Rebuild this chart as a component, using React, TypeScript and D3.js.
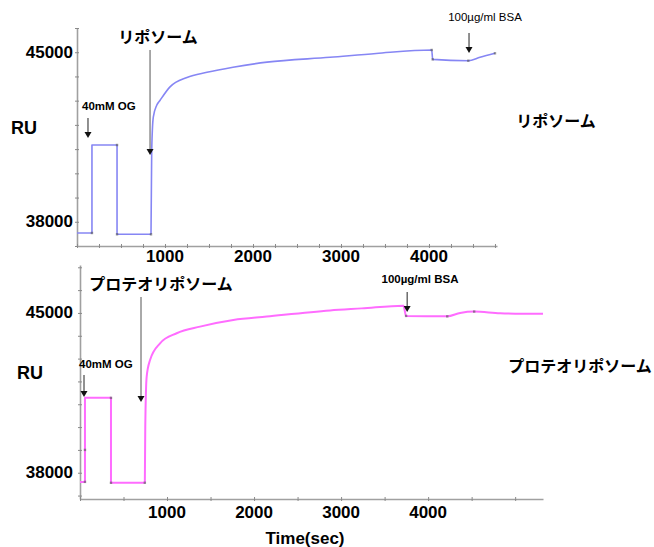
import { useEffect, useRef } from 'react';
import * as d3 from 'd3';

const W = 654;
const H = 547;
const LATIN = "'Liberation Sans', Arial, sans-serif";
const JP = "'Noto Sans CJK JP', 'Noto Sans CJK SC', sans-serif";

// --- top panel: liposome (time in sec, response in RU)
const lipoTime = [0, 170, 170, 455, 455, 841, 849, 867, 906, 943, 1057, 1250, 1477, 1773, 2159, 2875, 3400, 4031, 4042, 4447, 4580, 4750];
const lipoRU = [37537, 37537, 41170, 41170, 37483, 37483, 40940, 42320, 42810, 43010, 43570, 43960, 44170, 44380, 44590, 44790, 44950, 45092, 44706, 44650, 44790, 44956];
const lipoMarkTime = [170, 455, 455, 841, 4031, 4042, 4447, 4750];
const lipoMarkRU = [37537, 41170, 37483, 37483, 45092, 44706, 44650, 44956];

// --- bottom panel: proteoliposome
const proTime = [0, 57, 57, 356, 356, 745, 750, 766, 805, 920, 1111, 1379, 1762, 2146, 2874, 3237, 3716, 3747, 4220, 4368, 4529, 4828, 5320];
const proRU = [37600, 37600, 41280, 41280, 37560, 37560, 40010, 42210, 42940, 43670, 44110, 44400, 44690, 44840, 45110, 45200, 45320, 44870, 44850, 45000, 45060, 44990, 44960];
const proMarkTime = [57, 57, 356, 356, 745, 3747, 4220, 4529];
const proMarkRU = [37600, 39000, 41280, 37560, 37560, 44870, 44850, 45060];

// index where the smooth association curve begins (steps before it)
const lipoRiseStart = 5;
const proRiseStart = 5;

const xTickLabels = [1000, 2000, 3000, 4000];
const yTickLabels = [45000, 38000];

export default function App() {
  const svgRef = useRef<SVGSVGElement>(null);

  useEffect(() => {
    if (!svgRef.current) return;
    const svg = d3.select(svgRef.current);
    svg.selectAll('*').remove();

    const panels = [
      {
        time: lipoTime, vals: lipoRU, markT: lipoMarkTime, markR: lipoMarkRU, rise: lipoRiseStart,
        color: '#8686f4', width: 1.6,
        xDomain: [0, 4773], xRange: [77, 497],
        yDomain: [37000, 46000], yRange: [246, 28],
        minorStep: 250, yMinor: d3.range(37000, 46001, 1000),
        xLabelY: 256, yLabelX: 73,
        title: 'リポソーム', titleX: 158, titleY: 36,
        side: 'リポソーム', sideX: 556, sideY: 120,
        ruX: 24, ruY: 128,
        og: { t: 125, from: 42284, to: 41459, tx: 82, ty: 110 },
        big: { t: 830, from: 45092, to: 40757 },
        bsa: { t: 4455, from: 45794, to: 44968, tx: 485, ty: 21, bold: false },
      },
      {
        time: proTime, vals: proRU, markT: proMarkTime, markR: proMarkRU, rise: proRiseStart,
        color: '#ff6cff', width: 2,
        xDomain: [0, 5320], xRange: [80, 543],
        yDomain: [36850, 47100], yRange: [499, 265],
        minorStep: 500, yMinor: d3.range(37000, 47001, 1000),
        xLabelY: 512, yLabelX: 73,
        title: 'プロテオリポソーム', titleX: 161, titleY: 283,
        side: 'プロテオリポソーム', sideX: 580, sideY: 365,
        ruX: 30, ruY: 373,
        og: { t: 46, from: 42282, to: 41318, tx: 79, ty: 368 },
        big: { t: 701, from: 45698, to: 41098 },
        bsa: { t: 3759, from: 45917, to: 45041, tx: 420, ty: 283, bold: true },
      },
    ];

    const arrow = (g: any, x: number, y1: number, y2: number, color: string) => {
      g.append('line')
        .attr('x1', x).attr('x2', x)
        .attr('y1', y1).attr('y2', y2 - 5)
        .style('stroke', color).style('stroke-width', 1);
      g.append('path')
        .attr('d', `M${x - 3.5},${y2 - 6}L${x + 3.5},${y2 - 6}L${x},${y2}Z`)
        .style('fill', '#111');
    };

    panels.forEach((p: any) => {
      const series = p.time.map((t: number, i: number) => ({ t, v: p.vals[i] }));
      const x = d3.scaleLinear().domain(p.xDomain).range(p.xRange);
      const y = d3.scaleLinear().domain(p.yDomain).range(p.yRange);
      const g = svg.append('g');

      // Axes
      const ya = g.append('g')
        .attr('transform', `translate(${p.xRange[0]},0)`)
        .call(d3.axisLeft(y).tickValues(p.yMinor).tickSizeOuter(0).tickFormat(() => ''));
      const xa = g.append('g')
        .attr('transform', `translate(0,${p.yRange[0]})`)
        .call(d3.axisBottom(x).tickValues(d3.range(0, p.xDomain[1], p.minorStep)).tickSizeOuter(0).tickFormat(() => ''));
      [ya, xa].forEach(a => {
        a.select('.domain').style('stroke', '#a0a0a0').style('stroke-width', 1.6);
        a.selectAll('.tick line').style('stroke', '#8a8a8a').style('stroke-width', 1);
      });
      ya.selectAll('.tick line').attr('x1', 2).attr('x2', -2);
      xa.selectAll('.tick line').attr('y1', -2).attr('y2', 2);

      // tick labels
      g.selectAll('text.xl')
        .data(xTickLabels)
        .enter()
        .append('text')
        .attr('x', d => x(d))
        .attr('y', p.xLabelY)
        .attr('text-anchor', 'middle')
        .attr('dominant-baseline', 'central')
        .style('font-family', LATIN)
        .style('font-weight', 'bold')
        .style('font-size', '17px')
        .text(d => d);
      g.selectAll('text.yl')
        .data(yTickLabels)
        .enter()
        .append('text')
        .attr('x', p.yLabelX)
        .attr('y', d => y(d))
        .attr('text-anchor', 'end')
        .attr('dominant-baseline', 'central')
        .style('font-family', LATIN)
        .style('font-weight', 'bold')
        .style('font-size', '17px')
        .text(d => d);

      g.append('text')
        .attr('x', p.ruX).attr('y', p.ruY)
        .attr('text-anchor', 'middle')
        .attr('dominant-baseline', 'central')
        .style('font-family', LATIN)
        .style('font-weight', 'bold')
        .style('font-size', '18px')
        .text('RU');

      // sensorgram: square injection steps, then smooth association/dissociation
      const stepLine = d3.line<any>().x(d => x(d.t)).y(d => y(d.v));
      const smoothLine = d3.line<any>().x(d => x(d.t)).y(d => y(d.v)).curve(d3.curveMonotoneX);
      [[series.slice(0, p.rise + 1), stepLine], [series.slice(p.rise), smoothLine]].forEach(([pts, gen]: any) => {
        g.append('path')
          .datum(pts)
          .attr('d', gen)
          .style('fill', 'none')
          .style('stroke', p.color)
          .style('stroke-width', p.width)
          .style('stroke-linejoin', 'round');
      });

      // injection markers
      g.selectAll('rect.mk')
        .data(p.markT.map((t: number, i: number) => ({ t, v: p.markR[i] })))
        .enter()
        .append('rect')
        .attr('x', (d: any) => x(d.t) - 1.2)
        .attr('y', (d: any) => y(d.v) - 1.2)
        .attr('width', 2.4).attr('height', 2.4)
        .style('fill', '#555')
        .style('opacity', 0.6);

      // annotations
      arrow(g, x(p.og.t), y(p.og.from), y(p.og.to), '#222');
      g.append('text')
        .attr('x', p.og.tx).attr('y', p.og.ty)
        .style('font-family', LATIN)
        .style('font-weight', 'bold')
        .style('font-size', '11.5px')
        .text('40mM OG');

      arrow(g, x(p.big.t), y(p.big.from), y(p.big.to), '#555');
      arrow(g, x(p.bsa.t), y(p.bsa.from), y(p.bsa.to), '#222');
      g.append('text')
        .attr('x', p.bsa.tx).attr('y', p.bsa.ty)
        .attr('text-anchor', 'middle')
        .style('font-family', LATIN)
        .style('font-weight', p.bsa.bold ? 'bold' : 'normal')
        .style('font-size', '11.5px')
        .text('100µg/ml BSA');

      [[p.title, p.titleX, p.titleY], [p.side, p.sideX, p.sideY]].forEach(([t, tx, ty]) => {
        g.append('text')
          .attr('x', tx).attr('y', ty)
          .attr('text-anchor', 'middle')
          .attr('dominant-baseline', 'central')
          .style('font-family', JP)
          .style('font-weight', 'bold')
          .style('font-size', '16px')
          .text(t);
      });
    });

    svg.append('text')
      .attr('x', 305).attr('y', 538)
      .attr('text-anchor', 'middle')
      .attr('dominant-baseline', 'central')
      .style('font-family', LATIN)
      .style('font-weight', 'bold')
      .style('font-size', '17px')
      .text('Time(sec)');
  }, []);

  return (
    <div style={{ position: 'absolute', left: 0, top: 0, width: W, height: H, background: '#fff' }}>
      <svg ref={svgRef} width={W} height={H} viewBox={`0 0 ${W} ${H}`} />
    </div>
  );
}
